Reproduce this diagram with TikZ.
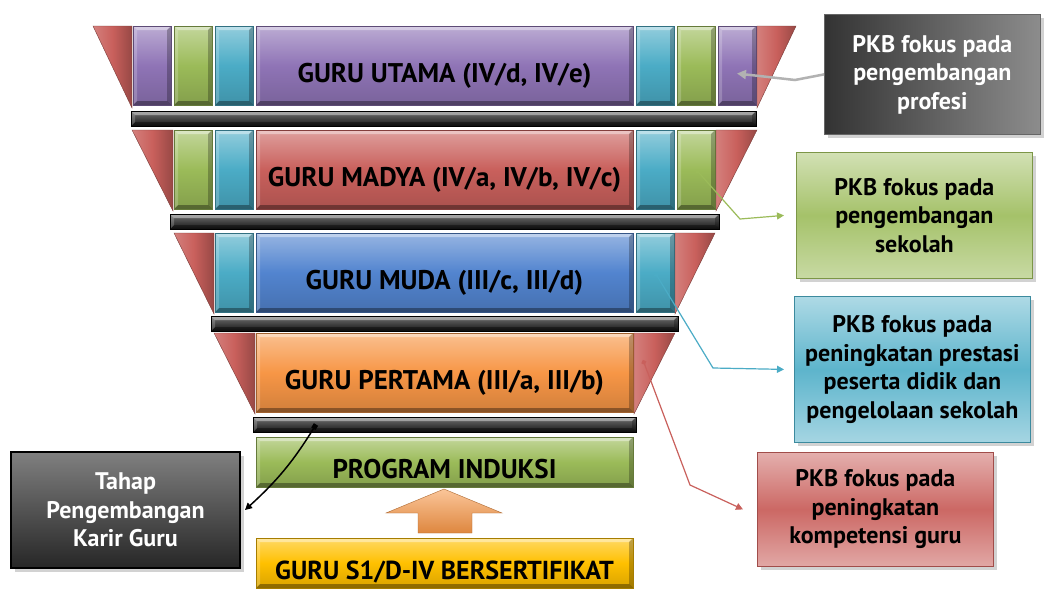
\documentclass[tikz,border=0pt]{standalone}
\usepackage{fontspec}
\setmainfont{PT Sans}
\usetikzlibrary{positioning,arrows.meta,shadows}
\definecolor{ungu}{HTML}{8F74B6}
\definecolor{hijau}{HTML}{9BBB59}
\definecolor{tosca}{HTML}{4BACC6}
\definecolor{merah}{HTML}{C9605C}
\definecolor{biru}{HTML}{5284CF}
\definecolor{oranye}{HTML}{F79646}
\definecolor{kuning}{HTML}{FFC000}
\begin{document}
\begin{tikzpicture}[x=1pt, y=-1pt, >={Triangle[length=7pt,width=7pt]}]
    \tikzset{
      bevel/.style={path picture={
        \fill[white, opacity=0.4] (path picture bounding box.north west) -- (path picture bounding box.north east) -- ([shift={(-4pt,-4pt)}]path picture bounding box.north east) -- ([shift={(4pt,-4pt)}]path picture bounding box.north west) -- cycle;
        \fill[black, opacity=0.35] (path picture bounding box.south west) -- (path picture bounding box.south east) -- ([shift={(-4pt,4pt)}]path picture bounding box.south east) -- ([shift={(4pt,4pt)}]path picture bounding box.south west) -- cycle;
        \fill[white, opacity=0.2] (path picture bounding box.north west) -- (path picture bounding box.south west) -- ([shift={(4pt,4pt)}]path picture bounding box.south west) -- ([shift={(4pt,-4pt)}]path picture bounding box.north west) -- cycle;
        \fill[black, opacity=0.25] (path picture bounding box.north east) -- (path picture bounding box.south east) -- ([shift={(-4pt,4pt)}]path picture bounding box.south east) -- ([shift={(-4pt,-4pt)}]path picture bounding box.north east) -- cycle;
      }},
      blok/.style={rectangle, draw=#1!65!black, top color=#1!60, bottom color=#1!85!black, middle color=#1, inner sep=0pt, outer sep=0pt, minimum height=79pt, bevel},
      kecil/.style={blok=#1, minimum width=38pt},
      jenjang/.style={blok=#1, anchor=north west, minimum width=377pt, font=\bfseries\fontsize{27}{32}\selectfont, text height=33pt, text depth=0pt},
      palang/.style={rectangle, draw=black, top color=black!55, bottom color=black!92, inner sep=0pt, outer sep=0pt, minimum height=15pt, anchor=north west, bevel},
      segitiga/.style={draw=merah!60!black, left color=merah!80, right color=merah!75!black, middle color=merah},
      pkb/.style={rectangle, line width=0.8pt, drop shadow={opacity=0.35, shadow xshift=4pt, shadow yshift=-4pt}, anchor=north west, align=center, inner sep=0pt, font=\bfseries\fontsize{24}{28.5}\selectfont},
      penghubung/.style={line width=1.2pt, draw=#1, {Circle[length=5pt]}->}
    }
    \useasboundingbox (0,0) rectangle (1045,589);
    \fill[white] (0,0) rectangle (1045,589);

    % jenjang guru
    \node (utama) [jenjang=ungu] at (256,26) {GURU UTAMA (IV/d, IV/e)};
    \node (utamaC1) [kecil=tosca, left=3pt of utama] {};
    \node (utamaG1) [kecil=hijau, left=3pt of utamaC1] {};
    \node (utamaP1) [kecil=ungu, left=3pt of utamaG1] {};
    \node (utamaC2) [kecil=tosca, right=3pt of utama] {};
    \node (utamaG2) [kecil=hijau, right=3pt of utamaC2] {};
    \node (utamaP2) [kecil=ungu, right=3pt of utamaG2] {};

    \node (madya) [jenjang=merah] at (256,130) {GURU MADYA (IV/a, IV/b, IV/c)};
    \node (madyaC1) [kecil=tosca, left=3pt of madya] {};
    \node (madyaG1) [kecil=hijau, left=3pt of madyaC1] {};
    \node (madyaC2) [kecil=tosca, right=3pt of madya] {};
    \node (madyaG2) [kecil=hijau, right=3pt of madyaC2] {};

    \node (muda) [jenjang=biru] at (256,233) {GURU MUDA (III/c, III/d)};
    \node (mudaC1) [kecil=tosca, left=3pt of muda] {};
    \node (mudaC2) [kecil=tosca, right=3pt of muda] {};

    \node (pertama) [jenjang=oranye] at (256,333) {GURU PERTAMA (III/a, III/b)};

    \node (induksi) [jenjang=hijau, minimum height=50pt] at (256,437) {PROGRAM INDUKSI};
    \node (sertifikat) [jenjang=kuning, minimum height=50pt, font=\bfseries\fontsize{26}{30}\selectfont] at (256,538) {GURU S1/D-IV BERSERTIFIKAT};

    % segitiga samping
    \draw [segitiga] (93,26) -- (132,26) -- (132,108) -- cycle;
    \draw [segitiga] (757,26) -- (796,26) -- (757,108) -- cycle;
    \draw [segitiga] (132,130) -- (173,130) -- (173,211) -- cycle;
    \draw [segitiga] (716,130) -- (757,130) -- (716,211) -- cycle;
    \draw [segitiga] (174,233) -- (214,233) -- (214,314) -- cycle;
    \draw [segitiga] (675,233) -- (715,233) -- (675,314) -- cycle;
    \draw [segitiga] (214,333) -- (255,333) -- (255,414) -- cycle;
    \draw [segitiga] (634,333) -- (675,333) -- (634,414) -- cycle;
    \coordinate (pertamaTitik) at (643,360);

    % palang hitam
    \node (bar1) [palang, minimum width=625pt] at (131,111) {};
    \node (bar2) [palang, minimum width=549pt] at (170,214) {};
    \node (bar3) [palang, minimum width=467pt] at (211,316) {};
    \node (bar4) [palang, minimum width=383pt] at (253,417) {};

    % panah naik
    \draw [draw=oranye!70!black, top color=oranye!55, bottom color=oranye!90!black] (444,489) -- (502,513) -- (472,513) -- (472,533) -- (418,533) -- (418,513) -- (386,513) -- cycle;

    % kotak keterangan
    \node (pkbProfesi) [pkb, draw=black!60, left color=black!80, right color=black!45, text=white, minimum width=216pt, minimum height=120pt] at (824,14) {PKB fokus pada\\pengembangan\\profesi};
    \node (pkbSekolah) [pkb, draw=hijau!80!black, top color=hijau!45, bottom color=hijau!55, middle color=hijau!90, minimum width=236pt, minimum height=126pt] at (796,152) {PKB fokus pada\\pengembangan\\sekolah};
    \node (pkbPrestasi) [pkb, draw=tosca!80!black, top color=tosca!45, bottom color=tosca!50, middle color=tosca!90, minimum width=236pt, minimum height=146pt] at (794,296) {PKB fokus pada\\peningkatan prestasi\\peserta didik dan\\pengelolaan sekolah};
    \node (pkbKompetensi) [pkb, draw=merah!80!black, top color=merah!50, bottom color=merah!55, middle color=merah!95, minimum width=236pt, minimum height=114pt] at (757,452) {PKB fokus pada\\peningkatan\\kompetensi guru};
    \node (tahap) [pkb, draw=black, line width=2pt, top color=black!50, bottom color=black!85, text=white, minimum width=229pt, minimum height=116pt] at (10,451) {Tahap\\Pengembangan\\Karir Guru};

    % penghubung
    \draw [line width=2.5pt, black!30, -{Triangle[length=9pt,width=9pt]}] (pkbProfesi.west) -- (795,80) -- ([yshift=-8pt]utamaP2.center);
    \draw [penghubung=hijau] (madyaG2.center) -- (740,219) -- ([xshift=-12pt]pkbSekolah.west);
    \draw [penghubung=tosca] (mudaC2.center) -- (713,368) -- ([xshift=-10pt]pkbPrestasi.west);
    \draw [penghubung=merah] (pertamaTitik) -- (690,485) -- ([xshift=-14pt]pkbKompetensi.west);
    \draw [line width=1.5pt, black, {Square[length=5pt]}->] ([xshift=63pt]bar4.west) to[bend left=8] ([xshift=4pt]tahap.east);

\end{tikzpicture}
\end{document}
